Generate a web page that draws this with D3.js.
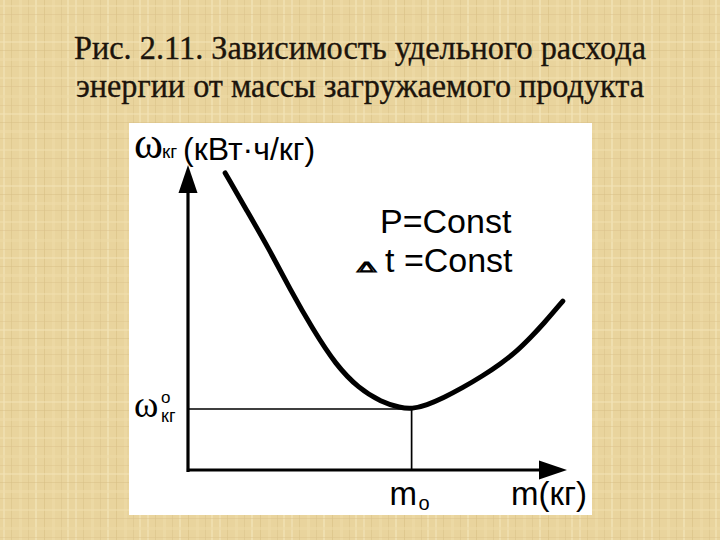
<!DOCTYPE html>
<html>
<head>
<meta charset="utf-8">
<script src="https://cdn.jsdelivr.net/npm/d3@7"></script>
<style>
  html, body { margin: 0; padding: 0; background: #e8d39c; }
  svg { display: block; }
</style>
</head>
<body>
<script>
// ---- data ----
const titleLines = ["Рис. 2.11. Зависимость удельного расхода", "энергии от массы загружаемого продукта"];
const massValues   = [9.8, 15.6, 21.5, 26.9, 33.0, 39.0, 45.0, 51.0, 56.0, 59.1, 63.0, 67.3, 72.5, 77.8, 82.5, 86.8, 90.5, 93.7, 98.9];
const energyValues = [97.4, 84.9, 72.2, 59.3, 46.0, 34.5, 26.8, 22.3, 20.4, 20.0, 21.3, 23.6, 27.0, 30.9, 34.8, 39.0, 43.6, 47.8, 55.4];
const optimumMass = 59;      // m0
const optimumEnergy = 20;    // ω°кг
const yAxisLabel = ["ω", "кг", "(кВт·ч/кг)"];
const xTickLabels = ["m", "o", "m(кг)"];
const yTickLabels = ["ω", "o", "кг"];
const conditions = ["P=Const", "Δ", "t =Const"];

// ---- layout ----
const W = 720, H = 540;
const svg = d3.select("body").append("svg").attr("width", W).attr("height", H);

// papyrus-like background
const defs = svg.append("defs");
const pat = defs.append("pattern").attr("id", "pap").attr("patternUnits", "userSpaceOnUse")
  .attr("width", 72).attr("height", 72);
pat.append("rect").attr("width", 72).attr("height", 72).attr("fill", "#e9d49d");
const vStripes = [[3,2,"#f2e2b4",0.7],[11,1,"#d8bf86",0.5],[19,3,"#efdca8",0.6],[28,1,"#dcc48c",0.6],[35,2,"#f4e6bb",0.6],[44,1,"#d5bb80",0.5],[52,3,"#eedaa6",0.6],[61,1,"#dac28a",0.5],[67,2,"#f3e4b7",0.6]];
const hStripes = [[5,2,"#f1e0b0",0.5],[14,1,"#d9c089",0.45],[23,3,"#eddaa5",0.5],[33,1,"#dbc38b",0.45],[41,2,"#f3e4b8",0.5],[50,1,"#d6bd83",0.45],[58,3,"#efdcaa",0.5],[66,1,"#d9c18a",0.45]];
vStripes.forEach(s => pat.append("rect").attr("x", s[0]).attr("y", 0).attr("width", s[1]).attr("height", 72).attr("fill", s[2]).attr("opacity", s[3]));
hStripes.forEach(s => pat.append("rect").attr("x", 0).attr("y", s[0]).attr("width", 72).attr("height", s[1]).attr("fill", s[2]).attr("opacity", s[3]));
svg.append("rect").attr("width", W).attr("height", H).attr("fill", "url(#pap)");

// title
const titleG = svg.append("g").attr("font-family", "'Liberation Serif','Times New Roman',serif")
  .attr("font-size", 34).attr("fill", "#1c140c").attr("stroke", "#1c140c").attr("stroke-width", 0.35)
  .attr("text-anchor", "middle");
titleG.selectAll("text").data(titleLines).join("text")
  .attr("x", 360).attr("y", (d, i) => 59 + i * 38)
  .attr("textLength", (d, i) => i === 0 ? 572 : 568)
  .attr("lengthAdjust", "spacingAndGlyphs")
  .text(d => d);

// white panel
svg.append("rect").attr("x", 129).attr("y", 123).attr("width", 463).attr("height", 392).attr("fill", "#ffffff");

// scales
const x = d3.scaleLinear().domain([0, 100]).range([188, 567]);
const y = d3.scaleLinear().domain([0, 100]).range([470, 165]);
const arrowLen = 28, arrowHalf = 9.5;

// axes (no ticks) – lines end under the arrowheads
const xAxisScale = x.copy().range([x(0), x(100) - arrowLen + 2]);
const yAxisScale = y.copy().range([y(0), y(100) + arrowLen - 2]);
const axX = svg.append("g").attr("transform", `translate(0,${y(0) - 0.5})`)
  .call(d3.axisBottom(xAxisScale).tickValues([]).tickSizeOuter(0));
const axY = svg.append("g").attr("transform", `translate(${x(0) - 0.5},0)`)
  .call(d3.axisLeft(yAxisScale).tickValues([]).tickSizeOuter(0));
[axX, axY].forEach(a => a.select(".domain").attr("stroke", "#000").attr("stroke-width", 3.2).attr("stroke-linecap", "square"));

// arrowheads
svg.append("path").attr("fill", "#000")
  .attr("d", `M${x(100)},${y(0)}L${x(100) - arrowLen},${y(0) - arrowHalf}L${x(100) - arrowLen},${y(0) + arrowHalf}Z`);
svg.append("path").attr("fill", "#000")
  .attr("d", `M${x(0)},${y(100)}L${x(0) - arrowHalf},${y(100) + arrowLen}L${x(0) + arrowHalf},${y(100) + arrowLen}Z`);

// reference lines to the optimum
svg.append("path").attr("fill", "none").attr("stroke", "#000").attr("stroke-width", 1.7)
  .attr("d", d3.line()([[x(0), y(optimumEnergy)], [x(optimumMass), y(optimumEnergy)], [x(optimumMass), y(0)]]));

// curve
const pts = massValues.map((m, i) => [m, energyValues[i]]);
svg.append("path").datum(pts).attr("fill", "none").attr("stroke", "#000")
  .attr("stroke-width", 5).attr("stroke-linecap", "round").attr("stroke-linejoin", "round")
  .attr("d", d3.line().x(d => x(d[0])).y(d => y(d[1])).curve(d3.curveBasis));

// labels
const sans = "'Liberation Sans', Arial, sans-serif";
const serif = "'Liberation Serif','Times New Roman',serif";

// y axis title
svg.append("text").attr("x", 134).attr("y", 158).attr("font-family", serif).attr("font-size", 44).text(yAxisLabel[0]);
svg.append("text").attr("x", 162).attr("y", 158).attr("font-family", sans).attr("font-size", 19).text(yAxisLabel[1]);
svg.append("text").attr("x", 183).attr("y", 160).attr("font-family", sans).attr("font-size", 32).text(yAxisLabel[2]);

// conditions
svg.append("text").attr("x", 380).attr("y", 233).attr("font-family", sans).attr("font-size", 34).text(conditions[0]);
svg.append("text").attr("transform", "translate(357,272) scale(1.0,0.5)").attr("font-family", "'DejaVu Sans', sans-serif")
  .attr("font-size", 28).attr("stroke", "#000").attr("stroke-width", 2.2).attr("fill", "none").text(conditions[1]);
svg.append("text").attr("x", 385).attr("y", 272).attr("font-family", sans).attr("font-size", 34).text(conditions[2]);

// x labels
svg.append("text").attr("x", x(optimumMass) - 22).attr("y", y(0) + 35).attr("font-family", sans).attr("font-size", 33).text(xTickLabels[0]);
svg.append("text").attr("x", x(optimumMass) + 7).attr("y", y(0) + 40).attr("font-family", sans).attr("font-size", 20).text(xTickLabels[1]);
svg.append("text").attr("x", x(100) + 20).attr("y", y(0) + 35).attr("text-anchor", "end").attr("font-family", sans).attr("font-size", 33).text(xTickLabels[2]);

// y optimum label
const yo = y(optimumEnergy);
svg.append("text").attr("x", 134).attr("y", yo + 8).attr("font-family", serif).attr("font-size", 37).text(yTickLabels[0]);
svg.append("text").attr("x", 161).attr("y", yo - 6).attr("font-family", sans).attr("font-size", 17).text(yTickLabels[1]);
svg.append("text").attr("x", 161).attr("y", yo + 13).attr("font-family", sans).attr("font-size", 18).text(yTickLabels[2]);
</script>
</body>
</html>
